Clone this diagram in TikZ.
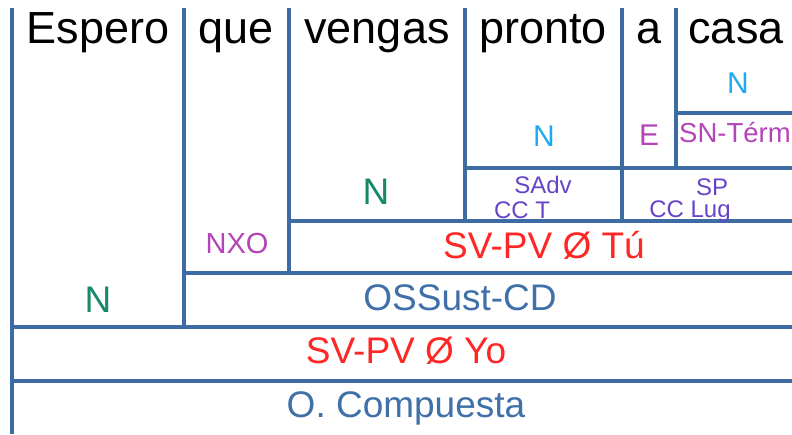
\documentclass[tikz,border=0pt]{standalone}
\usepackage{fontspec}
\setmainfont{Liberation Sans}
\usepackage{xcolor}
\usepackage{tikz}
\definecolor{rule}{HTML}{3C6CA3}
\definecolor{nucgreen}{HTML}{17896A}
\definecolor{nuccyan}{HTML}{1EAAEE}
\definecolor{funcmag}{HTML}{B444B8}
\definecolor{phrviolet}{HTML}{6644C8}
\definecolor{clred}{HTML}{FF2626}
\definecolor{clblue}{HTML}{4070A8}
\newcommand{\fsz}[1]{\fontsize{#1}{#1}\selectfont}

\begin{document}
\begin{tikzpicture}[x=1pt, y=-1pt,
    every node/.style={anchor=base, inner sep=0pt},
    word/.style={font=\fsz{45}, text=black},
    big/.style={font=\fsz{37}},
    mid/.style={font=\fsz{30}},
    small/.style={font=\fsz{24}, text=phrviolet}]
    \useasboundingbox (0,0) rectangle (792,434);
    % columns
    \begin{scope}[draw=rule, line width=3.2pt]
      \draw (12,8) -- (12,434);
      \foreach \x/\y in {184/327, 289/273, 465/221, 622/221, 676/168}{
        \draw (\x,8) -- (\x,\y);
      }
      % rows
      \foreach \x/\y in {676/113, 465/168, 289/221, 184/273, 12/327, 12/381}{
        \draw (\x-1.6,\y) -- (792,\y);
      }
    \end{scope}
    % words
    \node[word] (espero) at (98,43) {Espero};
    \node[word] (que) at (236,43) {que};
    \node[word] (vengas) at (377,43) {vengas};
    \node[word] (pronto) at (543,43) {pronto};
    \node[word] (a) at (649,43) {a};
    \node[word] (casa) at (736,43) {casa};
    % functions
    \node[big, text=nucgreen] (nespero) at (98,312) {N};
    \node[big, text=nucgreen] (nvengas) at (376,204) {N};
    \node[mid, text=nuccyan] (npronto) at (544,146) {N};
    \node[mid, text=nuccyan] (ncasa) at (738,93) {N};
    \node[mid, text=funcmag] (enlace) at (649,145) {E};
    \node[font=\fsz{27.5}, text=funcmag, anchor=base west] (term) at (679,142) {SN-Térm};
    \node[font=\fsz{29}, text=funcmag] (nxo) at (237,253) {NXO};
    \node[small] (sadv) at (543,193) {SAdv};
    \node[small] (cct) at (522,218) {CC T};
    \node[small] (sp) at (712,195) {SP};
    \node[small] (cclug) at (690,217) {CC Lug};
    \node[big, text=clred] (svtu) at (544,258) {SV-PV Ø Tú};
    \node[big, text=clblue] (ossust) at (460,310) {OSSust-CD};
    \node[big, text=clred] (svyo) at (406,363) {SV-PV Ø Yo};
    \node[big, text=clblue] (ocomp) at (406,417) {O. Compuesta};
  \end{tikzpicture}
\end{document}
